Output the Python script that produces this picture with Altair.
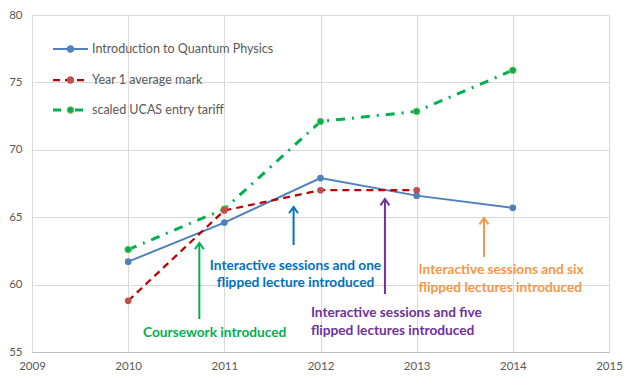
import altair as alt
import pandas as pd

years = [2010, 2011, 2012, 2013, 2014]
quantum = [61.7, 64.6, 67.9, 66.6, 65.7]
year1_years = [2010, 2011, 2012, 2013]
year1 = [58.8, 65.5, 67.0, 67.0]
ucas = [62.6, 65.6, 72.1, 72.85, 75.9]

series_names = ["Introduction to Quantum Physics", "Year 1 average mark", "scaled UCAS entry tariff"]

# annotation arrows (data coordinates)
arrow_x = [2010.74, 2011.72, 2012.67, 2013.70]
arrow_y0 = [57.45, 62.94, 59.30, 62.05]
arrow_y1 = [63.09, 65.76, 66.35, 64.94]
arrow_colors = ["#00B050", "#0070C0", "#7030A0", "#F79646"]

# annotation text lines
ann_lines = [
    "Coursework introduced",
    "Interactive sessions and one", "flipped lecture introduced",
    "Interactive sessions and five", "flipped lectures introduced",
    "Interactive sessions and six", "flipped lectures introduced",
]
ann_x = [2010.90, 2011.74, 2011.74, 2011.90, 2011.90, 2013.02, 2013.02]
ann_y = [56.41, 61.38, 60.12, 57.89, 56.56, 61.08, 59.75]
ann_color = ["#00B050", "#0070C0", "#0070C0", "#7030A0", "#7030A0", "#F79646", "#F79646"]
ann_align = ["center", "center", "center", "left", "left", "left", "left"]

FONT = "Lato"

xs = alt.Scale(domain=[2009, 2015], nice=False)
ys = alt.Scale(domain=[55, 80], nice=False)
xax = alt.Axis(values=[2009, 2010, 2011, 2012, 2013, 2014, 2015], format="d", title=None,
               grid=True, gridColor="#D9D9D9", domainColor="#BFBFBF", ticks=False,
               labelColor="#595959", labelFontSize=11.5, labelPadding=8, labelFont=FONT,
               labelFlush=False)
yax = alt.Axis(values=[55, 60, 65, 70, 75, 80], title=None, grid=True, gridColor="#D9D9D9",
               domainColor="#D9D9D9", ticks=False, labelColor="#595959", labelFontSize=11.5,
               labelPadding=10, labelFont=FONT, labelFlush=False)

df_q = pd.DataFrame({"year": years, "value": quantum})
df_r = pd.DataFrame({"year": year1_years, "value": year1})
df_u = pd.DataFrame({"year": years, "value": ucas})


def enc(ch):
    return ch.encode(x=alt.X("year:Q", scale=xs, axis=xax), y=alt.Y("value:Q", scale=ys, axis=yax))


base_q = alt.Chart(df_q)
base_r = alt.Chart(df_r)
base_u = alt.Chart(df_u)

lines = [
    enc(base_u.mark_line(color="#00B050", strokeWidth=3, strokeDash=[9, 7, 2, 7])),
    enc(base_u.mark_point(filled=True, size=45, color="#00B050", stroke="#9BBB59", strokeWidth=1, opacity=1)),
    enc(base_q.mark_line(color="#4F81BD", strokeWidth=2)),
    enc(base_q.mark_point(filled=True, size=45, color="#4F81BD", opacity=1)),
    enc(base_r.mark_line(color="#C00000", strokeWidth=2.25, strokeDash=[7, 5])),
    enc(base_r.mark_point(filled=True, size=45, color="#C0504D", opacity=1)),
]

df_arrow = pd.DataFrame({"x": arrow_x, "y0": arrow_y0, "y1": arrow_y1, "c": arrow_colors})
arrow_shafts = alt.Chart(df_arrow).mark_rule(strokeWidth=2).encode(
    x=alt.X("x:Q", scale=xs), y=alt.Y("y0:Q", scale=ys), y2="y1:Q",
    color=alt.Color("c:N", scale=None))
arrow_heads = alt.Chart(df_arrow).mark_point(
    shape="M-1,1.4L0,0L1,1.4", size=81, filled=False, strokeWidth=2, opacity=1).encode(
    x=alt.X("x:Q", scale=xs), y=alt.Y("y1:Q", scale=ys),
    stroke=alt.Color("c:N", scale=None))

df_ann = pd.DataFrame({"t": ann_lines, "x": ann_x, "y": ann_y, "c": ann_color, "a": ann_align})
ann_layers = []
for al in ["center", "left"]:
    ann_layers.append(
        alt.Chart(df_ann[df_ann["a"] == al]).mark_text(
            font=FONT, fontSize=13.7, fontWeight="bold", align=al, baseline="middle").encode(
            x=alt.X("x:Q", scale=xs), y=alt.Y("y:Q", scale=ys), text="t:N",
            color=alt.Color("c:N", scale=None)))

# manual legend
leg_y = [34, 65, 95]
leg_color_line = ["#4F81BD", "#C00000", "#00B050"]
leg_color_pt = ["#4F81BD", "#C0504D", "#00B050"]
leg_dash = [[1, 0], [7, 5], [8, 6, 2, 6]]
leg_width = [2, 2.25, 3]
leg_layers = []
one = pd.DataFrame({"k": [0]})
for i, name in enumerate(series_names):
    leg_layers.append(alt.Chart(one).mark_rule(color=leg_color_line[i], strokeWidth=leg_width[i],
                                               strokeDash=leg_dash[i]).encode(
        x=alt.value(21), x2=alt.value(56), y=alt.value(leg_y[i])))
    leg_layers.append(alt.Chart(one).mark_point(filled=True, size=45, color=leg_color_pt[i], opacity=1,
                                                stroke="#9BBB59" if i == 2 else leg_color_pt[i],
                                                strokeWidth=1).encode(
        x=alt.value(38.5), y=alt.value(leg_y[i])))
    leg_layers.append(alt.Chart(one).mark_text(text=name, font=FONT, fontSize=12.5, color="#595959",
                                               align="left", baseline="middle").encode(
        x=alt.value(60), y=alt.value(leg_y[i])))

chart = alt.layer(*lines, arrow_shafts, arrow_heads, *ann_layers, *leg_layers).properties(
    width=577, height=337,
    autosize=alt.AutoSizeParams(type="none"),
    padding={"left": 24, "top": 7, "right": 20, "bottom": 30},
    background="white",
).configure_view(stroke=None)

chart.save("out.html", embed_options={"renderer": "svg", "actions": False})
